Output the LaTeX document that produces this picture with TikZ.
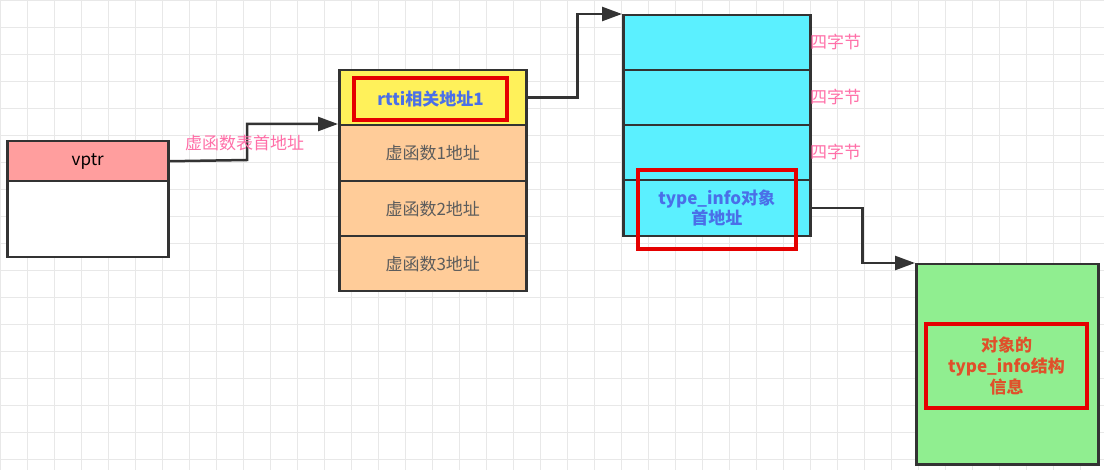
\documentclass[tikz,border=0pt]{standalone}
\usepackage{fontspec}
\setmainfont{Noto Sans CJK SC}
\usetikzlibrary{arrows.meta}
\definecolor{salmon}{HTML}{FF9E9E}
\definecolor{ylw}{HTML}{FFF15A}
\definecolor{org}{HTML}{FFCC99}
\definecolor{cyn}{HTML}{5BF0FF}
\definecolor{grn}{HTML}{90EE90}
\definecolor{pnk}{HTML}{FF6FA8}
\definecolor{blu}{HTML}{4A6FE8}
\definecolor{redt}{HTML}{E0502A}
\definecolor{box}{HTML}{333333}
\tikzset{
 cell/.style={draw=box,line width=2.5pt,minimum width=187pt,inner sep=0pt,font=\fontsize{17}{20}\selectfont},
 hl/.style={draw=red!90!black,line width=4pt},
 conn/.style={draw=box,line width=2.5pt,-{Triangle[length=20pt,width=14pt]}},
 lbl/.style={text=pnk,font=\fontsize{17}{20}\selectfont}
}
\begin{document}
\begin{tikzpicture}[x=1pt,y=-1pt]
\useasboundingbox (0,0) rectangle (1104,470);
\fill[white] (0,0) rectangle (1104,470);
\foreach \i in {0,...,41} {\draw[black!9,line width=0.8pt] (\i*27,0) -- (\i*27,470);}
\foreach \i in {0,...,17} {\draw[black!9,line width=0.8pt] (0,\i*27) -- (1104,\i*27);}
% vptr
\node[cell,fill=salmon,minimum width=161pt,minimum height=40pt,anchor=north west] (vptr) at (6,140) {vptr};
\node[cell,fill=white,minimum width=161pt,minimum height=76pt,anchor=north west] (vbody) at (6,180) {};
% vtable
\node[cell,fill=ylw,minimum height=55pt,anchor=north west] (rtti) at (338,69) {};
\node[cell,fill=org,minimum height=56pt,anchor=north west] (f1) at (338,124) {\textcolor{box!80}{虚函数1地址}};
\node[cell,fill=org,minimum height=55pt,anchor=north west] (f2) at (338,180) {\textcolor{box!80}{虚函数2地址}};
\node[cell,fill=org,minimum height=55pt,anchor=north west] (f3) at (338,235) {\textcolor{box!80}{虚函数3地址}};
\node[hl,minimum width=153pt,minimum height=42pt,anchor=north west,text=blu,font=\fontsize{17}{20}\selectfont\bfseries,inner sep=0pt] (rttit) at (352,76) {rtti相关地址1};
% type table
\node[cell,fill=cyn,minimum height=55pt,anchor=north west] (c1) at (622,14) {};
\node[cell,fill=cyn,minimum height=55pt,anchor=north west] (c2) at (622,69) {};
\node[cell,fill=cyn,minimum height=55pt,anchor=north west] (c3) at (622,124) {};
\node[cell,fill=cyn,minimum height=56pt,anchor=north west,align=center,text=blu,font=\fontsize{17}{20}\selectfont\bfseries] (c4) at (622,179) {type\_info对象\\首地址};
\node[hl,minimum width=158pt,minimum height=79pt,anchor=north west] (c4h) at (636,168) {};
\node[lbl,anchor=west,inner sep=0pt] (q1) at (810,42) {四字节};
\node[lbl,anchor=west,inner sep=0pt] (q2) at (810,97) {四字节};
\node[lbl,anchor=west,inner sep=0pt] (q3) at (810,152) {四字节};
% green
\node[cell,fill=grn,minimum width=182pt,minimum height=200pt,anchor=north west] (g) at (915,263) {};
\node[hl,minimum width=161pt,minimum height=84pt,anchor=north west,align=center,text=redt,font=\fontsize{17}{21}\selectfont\bfseries] (gt) at (924,322) {对象的\\type\_info结构\\信息};
% connectors
\coordinate (a1) at (247,160);
\draw[conn] (vptr.east) -- (a1) |- (f1.north west);
\node[lbl,anchor=south west,inner sep=1pt] (l1) at (184,152) {虚函数表首地址};
\draw[conn] (rtti.east) -- ++(50,0) |- (c1.north west);
\draw[conn] (c4.east) -- ++(51,0) |- (g.north west);
\end{tikzpicture}
\end{document}
